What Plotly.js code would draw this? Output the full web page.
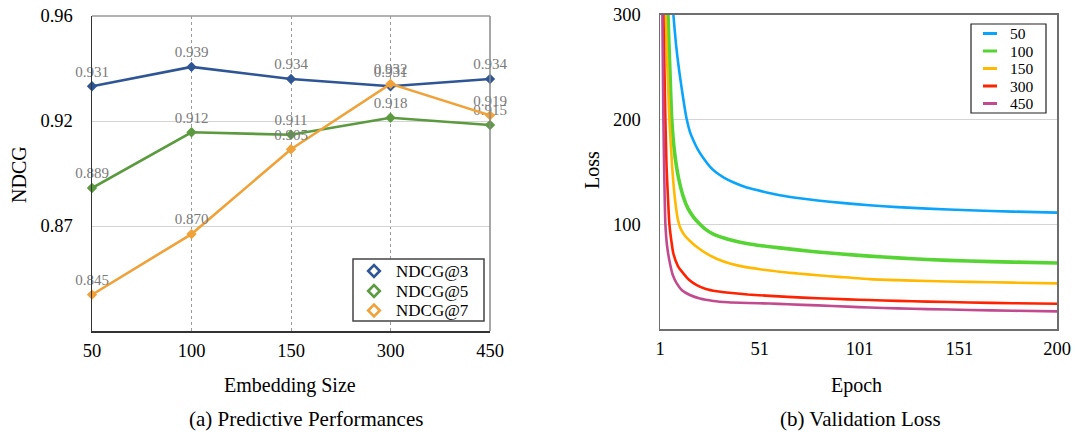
<!DOCTYPE html>
<html>
<head>
<meta charset="utf-8">
<script src="https://cdn.plot.ly/plotly-3.0.1.min.js"></script>
<style>html,body{margin:0;padding:0;background:#fff;}#chart{width:1075px;height:438px;}</style>
</head>
<body>
<div id="chart"></div>
<script>
// ---- Panel (a): Predictive Performances ----
var embeddingSizes = ['50', '100', '150', '300', '450'];
var ndcg3 = [0.931, 0.939, 0.934, 0.931, 0.934];
var ndcg5 = [0.889, 0.912, 0.911, 0.918, 0.915];
var ndcg7 = [0.845, 0.870, 0.905, 0.932, 0.919];
var ndcgNames = ['NDCG@3', 'NDCG@5', 'NDCG@7'];
var ndcgTickVals = [0.96, 0.916667, 0.873333];
var ndcgTickText = ['0.96', '0.92', '0.87'];

// ---- Panel (b): Validation Loss ----
var epochs50  = [6.5, 7.7, 9, 10.5, 12, 13.2, 14.4, 16, 17.7, 20, 22.7, 26, 29.4, 33, 37.7, 43, 49.5, 55, 61, 70, 80, 92, 106, 120, 135, 156, 178, 200];
var loss50    = [330, 300, 272, 248, 228, 213, 200, 188, 180, 171, 163, 155, 149, 144.5, 140, 136, 132.5, 130, 127.6, 125, 122.6, 120.3, 118, 116.3, 114.8, 113.3, 112, 111];
var epochs100 = [4, 5, 6, 6.9, 8.2, 10.2, 12.7, 15, 17.7, 21, 24.4, 28, 32.7, 38, 44.4, 52, 61, 70, 80, 92, 106, 120, 135, 156, 178, 200];
var loss100   = [420, 300, 245, 200, 170, 145, 126, 115, 107, 100, 94.3, 90.3, 87, 84.2, 81.6, 79.4, 77.4, 75.5, 73.5, 71.5, 69.5, 67.8, 66.3, 64.8, 63.8, 63];
var epochs150 = [3, 3.8, 4.7, 5.7, 7.2, 8.5, 10, 11.5, 13.5, 16, 20, 24.4, 30, 36, 44, 52, 61, 70, 80, 92, 106, 120, 135, 156, 178, 200];
var loss150   = [370, 300, 250, 200, 152, 124, 104, 95, 89, 84, 77.5, 72, 66.5, 62.5, 59, 56.8, 54.6, 53, 51.3, 49.5, 47.6, 46.6, 45.8, 45, 44.2, 43.5];
var epochs300 = [1, 2, 2.7, 3.2, 3.7, 4.3, 5, 5.7, 6.7, 7.7, 10, 12.7, 15.5, 19.4, 24, 29.4, 37, 45, 56, 65, 80, 95, 106, 120, 135, 156, 178, 200];
var loss300   = [650, 380, 300, 250, 200, 154.6, 125, 100, 84, 72, 60, 53, 47, 41.9, 38.2, 36, 34.3, 32.9, 31.6, 30.6, 29.3, 28.3, 27.6, 26.8, 26.1, 25.3, 24.6, 24.1];
var epochs450 = [1, 1.6, 2.2, 2.7, 3.2, 3.7, 4.5, 6, 7.5, 9.4, 12, 16, 21, 27.7, 35, 45, 56, 65, 80, 95, 106, 120, 135, 156, 178, 200];
var loss450   = [600, 400, 300, 200, 140, 100, 80, 62.5, 51, 43.5, 37, 32.4, 29, 26.7, 25.5, 24.8, 24.3, 23.6, 22.5, 21.3, 20.5, 19.7, 19, 18.1, 17.4, 16.8];
var lossSeriesNames = ['50', '100', '150', '300', '450'];
var epochTickVals = [1, 51, 101, 151, 200];
var lossTickVals = [100, 200, 300];

var SERIF = 'Liberation Serif, Times New Roman, serif';
var colA = ['#2e5594', '#5b9a3e', '#f0a23a'];
var colB = ['#0aa5fa', '#55d433', '#ffb900', '#ff2200', '#c24a8f'];
var W = 1075, H = 438;
function px(x) { return x / W; }
function py(y) { return 1 - y / H; }
function fmt(arr) { return arr.map(function (v) { return v.toFixed(3); }); }

var traces = [];
[ndcg3, ndcg5, ndcg7].forEach(function (s, i) {
  traces.push({
    x: embeddingSizes, y: s, type: 'scatter', mode: 'lines+markers+text',
    name: ndcgNames[i], showlegend: false, xaxis: 'x', yaxis: 'y',
    line: {color: colA[i], width: 2.6},
    marker: {symbol: 'diamond', size: 8, color: colA[i]},
    text: fmt(s), textposition: 'top center', cliponaxis: false,
    textfont: {family: SERIF, size: 15, color: '#7a7a7a'}
  });
});

var lossX = [epochs50, epochs100, epochs150, epochs300, epochs450];
var lossY = [loss50, loss100, loss150, loss300, loss450];
lossSeriesNames.forEach(function (n, i) {
  traces.push({
    x: lossX[i], y: lossY[i], type: 'scatter', mode: 'lines', name: n, showlegend: false,
    xaxis: 'x2', yaxis: 'y2',
    line: {color: colB[i], width: i === 1 ? 3.6 : 2.6, shape: 'spline', smoothing: 0.6}
  });
});

var shapes = [
  // top / right frame of panel (a)
  {type: 'line', xref: 'paper', yref: 'paper', x0: px(92), x1: px(490), y0: py(16), y1: py(16), line: {color: '#9a9a9a', width: 1.5}},
  {type: 'line', xref: 'paper', yref: 'paper', x0: px(490), x1: px(490), y0: py(331), y1: py(16), line: {color: '#8a8a8a', width: 1.5}},
  // legend boxes
  {type: 'rect', xref: 'paper', yref: 'paper', x0: px(353), x1: px(484), y0: py(321), y1: py(259), fillcolor: '#fff', line: {color: '#444', width: 1.5}},
  {type: 'rect', xref: 'paper', yref: 'paper', x0: px(971), x1: px(1046), y0: py(113), y1: py(24), fillcolor: '#fff', line: {color: '#222', width: 1.2}}
];
var annotations = [
  {text: 'NDCG', x: px(19), y: py(175), textangle: -90, size: 20},
  {text: 'Embedding Size', x: px(290), y: py(385), size: 20},
  {text: '(a) Predictive Performances', x: px(306), y: py(419), size: 21},
  {text: 'Loss', x: px(592), y: py(170), textangle: -90, size: 20},
  {text: 'Epoch', x: px(856), y: py(385), size: 20},
  {text: '(b) Validation Loss', x: px(860), y: py(419), size: 21}
].map(function (a) {
  return {text: a.text, xref: 'paper', yref: 'paper', x: a.x, y: a.y, textangle: a.textangle || 0,
    showarrow: false, font: {family: SERIF, size: a.size, color: '#000'}, xanchor: 'center', yanchor: 'middle'};
});

// legend of panel (a): open diamonds + names
var legAy = [271, 291, 310.5];
ndcgNames.forEach(function (n, i) {
  var cx = 374, cy = legAy[i], r = 5.8;
  shapes.push({type: 'path', xref: 'paper', yref: 'paper',
    path: 'M' + px(cx - r) + ',' + py(cy) + ' L' + px(cx) + ',' + py(cy - r) + ' L' + px(cx + r) + ',' + py(cy) + ' L' + px(cx) + ',' + py(cy + r) + ' Z',
    line: {color: colA[i], width: 2.6}, fillcolor: 'rgba(0,0,0,0)'});
  annotations.push({text: n, xref: 'paper', yref: 'paper', x: px(394), y: py(cy), xanchor: 'left', yanchor: 'middle',
    showarrow: false, font: {family: SERIF, size: 17, color: '#000'}});
});
// legend of panel (b): short lines + names
var legBy = [33.5, 51, 68.5, 86, 103.5];
lossSeriesNames.forEach(function (n, i) {
  shapes.push({type: 'line', xref: 'paper', yref: 'paper', x0: px(983), x1: px(997), y0: py(legBy[i]), y1: py(legBy[i]),
    line: {color: colB[i], width: 3}});
  annotations.push({text: n, xref: 'paper', yref: 'paper', x: px(1008), y: py(legBy[i]), xanchor: 'left', yanchor: 'middle',
    showarrow: false, font: {family: SERIF, size: 15.5, color: '#000'}});
});

var tickFont = {family: SERIF, size: 18.5, color: '#000'};
var layout = {
  width: W, height: H,
  margin: {l: 0, r: 0, t: 0, b: 0},
  paper_bgcolor: '#fff', plot_bgcolor: '#fff',
  font: {family: SERIF, color: '#000'},
  showlegend: false,
  xaxis: {
    domain: [px(92), px(490)], type: 'category', range: [0, 4],
    showgrid: true, gridcolor: '#9a9a9a', griddash: 'dot', gridwidth: 1,
    showline: true, linecolor: '#333', linewidth: 1.5,
    ticks: '', tickfont: tickFont, ticklabelstandoff: 2, zeroline: false, fixedrange: true
  },
  yaxis: {
    domain: [py(331), py(16)], range: [0.83, 0.96],
    tickvals: ndcgTickVals, ticktext: ndcgTickText,
    showgrid: true, gridcolor: '#d4d4d4', gridwidth: 1,
    showline: true, linecolor: '#333', linewidth: 1.5,
    ticks: '', tickfont: tickFont, ticklabelstandoff: 14, zeroline: false, fixedrange: true
  },
  xaxis2: {
    domain: [px(660), px(1057)], range: [1, 200], tickvals: epochTickVals,
    showgrid: false, showline: true, linecolor: '#6e6e6e', linewidth: 1.5, mirror: true,
    ticks: '', tickfont: tickFont, ticklabelstandoff: 2, zeroline: false, anchor: 'y2', fixedrange: true
  },
  yaxis2: {
    domain: [py(329), py(14.5)], range: [0, 300], tickvals: lossTickVals,
    showgrid: true, gridcolor: '#d4d4d4', gridwidth: 1,
    showline: true, linecolor: '#6e6e6e', linewidth: 1.5, mirror: true,
    ticks: '', tickfont: tickFont, ticklabelstandoff: 14, zeroline: false, anchor: 'x2', fixedrange: true
  },
  shapes: shapes,
  annotations: annotations
};

Plotly.newPlot('chart', traces, layout, {displayModeBar: false, staticPlot: true});
</script>
</body>
</html>
